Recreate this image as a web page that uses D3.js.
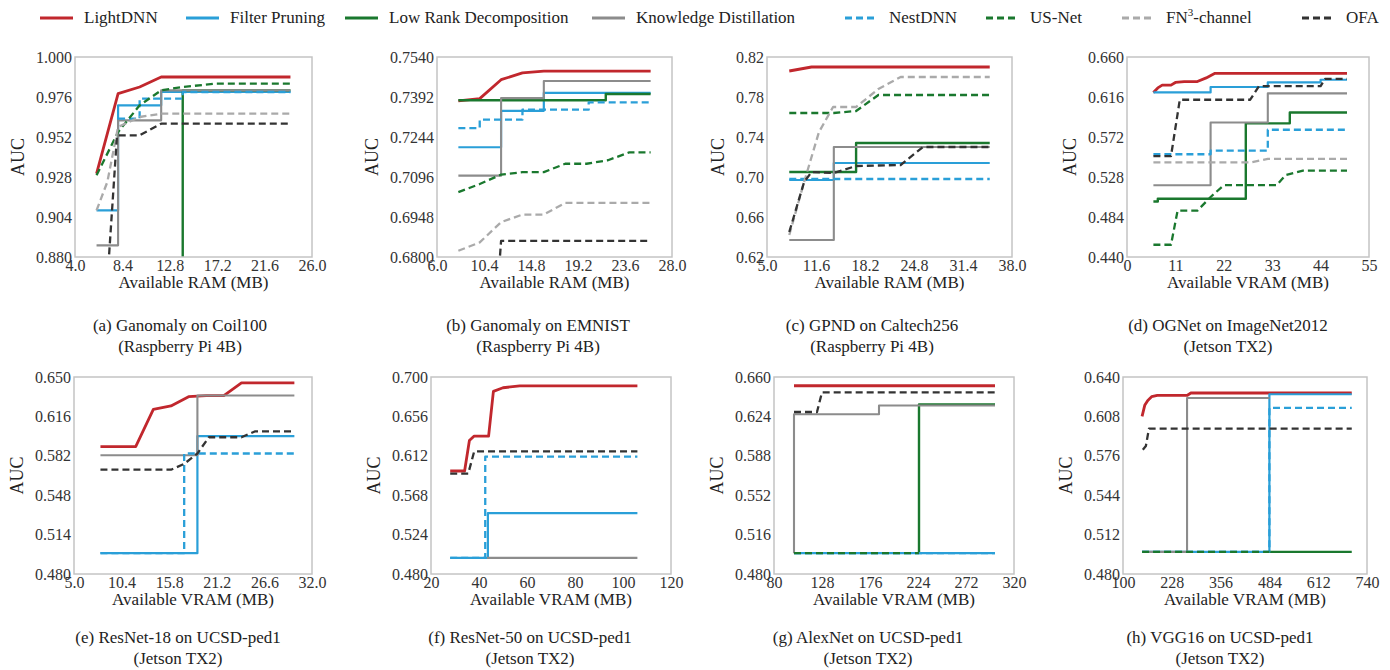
<!DOCTYPE html>
<html>
<head>
<meta charset="utf-8">
<script src="https://cdn.jsdelivr.net/npm/d3@7"></script>
<style>
  body { margin: 0; background: #fff; }
  text { font-family: "Liberation Serif", "Times New Roman", serif; fill: #222; }
</style>
</head>
<body>
<svg id="chart" width="1390" height="670"></svg>
<script>
// series, in legend order
var seriesNames = ["LightDNN", "Filter Pruning", "Low Rank Decomposition", "Knowledge Distillation",
                   "NestDNN", "US-Net", "FN3-channel", "OFA"];

// (a) Ganomaly on Coil100
var coilX = ["4.0", "8.4", "12.8", "17.2", "21.6", "26.0"];
var coilY = ["0.880", "0.904", "0.928", "0.952", "0.976", "1.000"];
var coilPts = [
  [[6, 0.930], [8, 0.978], [10, 0.982], [12, 0.988], [24, 0.988]],
  [[6, 0.908], [8, 0.908], [8, 0.971], [12, 0.971], [12, 0.979], [24, 0.979]],
  [[14, 0.870], [14, 0.980], [24, 0.980]],
  [[6, 0.887], [8, 0.887], [8, 0.962], [12, 0.962], [12, 0.980], [24, 0.980]],
  [[8, 0.963], [10, 0.963], [10, 0.975], [14, 0.975], [14, 0.979], [24, 0.979]],
  [[6, 0.929], [8, 0.955], [10, 0.971], [12, 0.980], [14, 0.982], [17, 0.984], [24, 0.984]],
  [[6, 0.908], [7, 0.925], [8, 0.958], [10, 0.964], [12, 0.966], [24, 0.966]],
  [[7.1, 0.875], [7.9, 0.953], [10, 0.953], [12, 0.960], [24, 0.960]]
];

// (b) Ganomaly on EMNIST
var emnistX = ["6.0", "10.4", "14.8", "19.2", "23.6", "28.0"];
var emnistY = ["0.6800", "0.6948", "0.7096", "0.7244", "0.7392", "0.7540"];
var emnistPts = [
  [[8, 0.7378], [10, 0.7386], [12, 0.7456], [14, 0.7481], [16, 0.7488], [26, 0.7488]],
  [[8, 0.7206], [12, 0.7206], [12, 0.7341], [16, 0.7341], [16, 0.7407], [26, 0.7407]],
  [[8, 0.7380], [21.8, 0.7380], [21.8, 0.7403], [26, 0.7403]],
  [[8, 0.7101], [12, 0.7101], [12, 0.7388], [16, 0.7388], [16, 0.7451], [26, 0.7451]],
  [[8, 0.7277], [10, 0.7277], [10, 0.7308], [14, 0.7308], [14, 0.7345], [20.2, 0.7345], [20.2, 0.7372], [26, 0.7372]],
  [[8, 0.7040], [10, 0.7070], [12, 0.7105], [14, 0.7114], [16, 0.7114], [18, 0.7145], [20, 0.7145], [22, 0.7158], [24, 0.7187], [26, 0.7187]],
  [[8, 0.6823], [10, 0.6854], [12, 0.6929], [14, 0.6957], [16, 0.6957], [18, 0.7000], [26, 0.7000]],
  [[11.9, 0.6805], [12, 0.6860], [26, 0.6860]]
];

// (c) GPND on Caltech256
var caltechX = ["5.0", "11.6", "18.2", "24.8", "31.4", "38.0"];
var caltechY = ["0.62", "0.66", "0.70", "0.74", "0.78", "0.82"];
var caltechPts = [
  [[8, 0.806], [11, 0.810], [35, 0.810]],
  [[8, 0.697], [14, 0.697], [14, 0.714], [35, 0.714]],
  [[8, 0.705], [17, 0.705], [17, 0.734], [35, 0.734]],
  [[8, 0.637], [14, 0.637], [14, 0.730], [35, 0.730]],
  [[8, 0.698], [35, 0.698]],
  [[8, 0.764], [14, 0.764], [17, 0.766], [20, 0.782], [35, 0.782]],
  [[8, 0.642], [10, 0.695], [12, 0.745], [13.9, 0.770], [17, 0.770], [20, 0.788], [23, 0.800], [35, 0.800]],
  [[8, 0.645], [10, 0.695], [11, 0.705], [14, 0.704], [17, 0.711], [23, 0.712], [26, 0.730], [35, 0.730]]
];

// (d) OGNet on ImageNet2012
var imagenetX = ["0", "11", "22", "33", "44", "55"];
var imagenetY = ["0.440", "0.484", "0.528", "0.572", "0.616", "0.660"];
var imagenetPts = [
  [[6, 0.621], [7, 0.626], [8, 0.629], [10, 0.629], [11, 0.632], [13, 0.633], [16, 0.633], [18, 0.637], [20, 0.642], [50, 0.642]],
  [[6, 0.621], [19, 0.621], [19, 0.627], [32, 0.627], [32, 0.632], [44, 0.632], [44, 0.635], [50, 0.635]],
  [[6, 0.501], [7, 0.501], [7, 0.504], [27, 0.504], [27, 0.587], [37, 0.587], [37, 0.599], [50, 0.599]],
  [[6, 0.519], [19, 0.519], [19, 0.588], [32, 0.588], [32, 0.620], [50, 0.620]],
  [[6, 0.553], [19, 0.553], [19, 0.557], [32, 0.557], [32, 0.580], [50, 0.580]],
  [[6, 0.4535], [10, 0.4535], [11.5, 0.491], [16, 0.491], [19, 0.506], [22, 0.519], [34, 0.519], [36, 0.530], [40, 0.535], [50, 0.535]],
  [[6, 0.544], [28, 0.544], [32, 0.548], [50, 0.548]],
  [[6, 0.551], [10, 0.551], [12, 0.613], [28, 0.613], [30, 0.628], [44, 0.628], [45, 0.636], [50, 0.636]]
];

// (e) ResNet-18 on UCSD-ped1
var r18X = ["5.0", "10.4", "15.8", "21.2", "26.6", "32.0"];
var r18Y = ["0.480", "0.514", "0.548", "0.582", "0.616", "0.650"];
var r18Pts = [
  [[8, 0.590], [12, 0.590], [14, 0.622], [16, 0.625], [18, 0.633], [20, 0.634], [22, 0.634], [24, 0.645], [30, 0.645]],
  [[8, 0.498], [19, 0.498], [19, 0.599], [30, 0.599]],
  null,
  [[8, 0.5825], [19, 0.5825], [19, 0.634], [30, 0.634]],
  [[8, 0.498], [17.5, 0.498], [17.5, 0.584], [30, 0.584]],
  null,
  null,
  [[8, 0.570], [16, 0.570], [17.5, 0.575], [19, 0.584], [20.3, 0.598], [24, 0.598], [25.5, 0.603], [30, 0.603]]
];

// (f) ResNet-50 on UCSD-ped1
var r50X = ["20", "40", "60", "80", "100", "120"];
var r50Y = ["0.480", "0.524", "0.568", "0.612", "0.656", "0.700"];
var r50Pts = [
  [[28, 0.595], [34, 0.595], [36, 0.629], [38, 0.634], [44, 0.634], [46, 0.684], [50, 0.688], [57, 0.690], [106, 0.690]],
  [[28, 0.498], [43.7, 0.498], [43.7, 0.548], [106, 0.548]],
  null,
  [[43.3, 0.498], [106, 0.498]],
  [[28, 0.498], [42.6, 0.498], [42.6, 0.611], [106, 0.611]],
  null,
  null,
  [[28, 0.592], [35.5, 0.592], [38, 0.617], [106, 0.617]]
];

// (g) AlexNet on UCSD-ped1
var alexX = ["80", "128", "176", "224", "272", "320"];
var alexY = ["0.480", "0.516", "0.552", "0.588", "0.624", "0.660"];
var alexPts = [
  [[100, 0.652], [301, 0.652]],
  [[100, 0.499], [301, 0.499]],
  [[225, 0.499], [225, 0.635], [301, 0.635]],
  [[100, 0.499], [100, 0.626], [185, 0.626], [185, 0.634], [301, 0.634]],
  [[100, 0.499], [301, 0.499]],
  [[100, 0.499], [225, 0.499]],
  null,
  [[100, 0.628], [123, 0.628], [128, 0.646], [301, 0.646]]
];

// (h) VGG16 on UCSD-ped1
var vggX = ["100", "228", "356", "484", "612", "740"];
var vggY = ["0.480", "0.512", "0.544", "0.576", "0.608", "0.640"];
var vggPts = [
  [[150, 0.608], [157, 0.617], [165, 0.621], [175, 0.624], [190, 0.625], [268, 0.625], [278, 0.627], [700, 0.627]],
  [[150, 0.498], [484, 0.498], [484, 0.626], [700, 0.626]],
  [[484, 0.498], [700, 0.498]],
  [[150, 0.498], [268, 0.498], [268, 0.623], [484, 0.623]],
  [[150, 0.498], [484, 0.498], [484, 0.615], [700, 0.615]],
  [[150, 0.498], [484, 0.498]],
  null,
  [[152, 0.581], [160, 0.584], [168, 0.598], [700, 0.598]]
];

var captions = [
  ["(a) Ganomaly on Coil100", "(Raspberry Pi 4B)"],
  ["(b) Ganomaly on EMNIST", "(Raspberry Pi 4B)"],
  ["(c) GPND on Caltech256", "(Raspberry Pi 4B)"],
  ["(d) OGNet on ImageNet2012", "(Jetson TX2)"],
  ["(e) ResNet-18 on UCSD-ped1", "(Jetson TX2)"],
  ["(f) ResNet-50 on UCSD-ped1", "(Jetson TX2)"],
  ["(g) AlexNet on UCSD-ped1", "(Jetson TX2)"],
  ["(h) VGG16 on UCSD-ped1", "(Jetson TX2)"]
];

var panels = [
  { xt: coilX, yt: coilY, pts: coilPts, xlabel: "Available RAM (MB)" },
  { xt: emnistX, yt: emnistY, pts: emnistPts, xlabel: "Available RAM (MB)" },
  { xt: caltechX, yt: caltechY, pts: caltechPts, xlabel: "Available RAM (MB)" },
  { xt: imagenetX, yt: imagenetY, pts: imagenetPts, xlabel: "Available VRAM (MB)" },
  { xt: r18X, yt: r18Y, pts: r18Pts, xlabel: "Available VRAM (MB)" },
  { xt: r50X, yt: r50Y, pts: r50Pts, xlabel: "Available VRAM (MB)" },
  { xt: alexX, yt: alexY, pts: alexPts, xlabel: "Available VRAM (MB)" },
  { xt: vggX, yt: vggY, pts: vggPts, xlabel: "Available VRAM (MB)" }
];

// styles
var FONT = "Liberation Serif, Times New Roman, serif";
var colors = ["#c1272d", "#2a9fd8", "#1a782e", "#8c8c8c", "#2a9fd8", "#1a782e", "#aaaaaa", "#333333"];
var dashed = [false, false, false, false, true, true, true, true];
var widths = [2.8, 2.2, 2.4, 2.1, 2.3, 2.3, 2.3, 2.3];

// layout: plot boxes, caption centres and caption baselines
var boxes = [
  { l: 75, r: 312, t: 57, b: 257, cx: 180, cy: 331 },
  { l: 437, r: 672, t: 57, b: 257, cx: 538, cy: 331 },
  { l: 767, r: 1012, t: 57, b: 257, cx: 872, cy: 331 },
  { l: 1127, r: 1369, t: 57, b: 257, cx: 1228, cy: 331 },
  { l: 74, r: 312, t: 377, b: 574, cx: 178, cy: 643 },
  { l: 431, r: 671, t: 377, b: 574, cx: 530, cy: 643 },
  { l: 774, r: 1014, t: 377, b: 574, cx: 868, cy: 643 },
  { l: 1123, r: 1367, t: 377, b: 574, cx: 1220, cy: 643 }
];

var svg = d3.select("#chart");

panels.forEach(function (p, k) {
  var box = boxes[k];
  var x = d3.scaleLinear().domain([+p.xt[0], +p.xt[p.xt.length - 1]]).range([box.l, box.r]);
  var y = d3.scaleLinear().domain([+p.yt[0], +p.yt[p.yt.length - 1]]).range([box.b, box.t]);

  svg.append("clipPath").attr("id", "clip" + k)
    .append("rect")
    .attr("x", box.l).attr("y", box.t)
    .attr("width", box.r - box.l).attr("height", box.b - box.t);

  var xAxis = svg.append("g")
    .attr("transform", "translate(0," + box.b + ")")
    .call(d3.axisBottom(x).tickValues(p.xt.map(Number)).tickFormat(function (d, i) { return p.xt[i]; })
      .tickSize(0).tickPadding(3));
  var yAxis = svg.append("g")
    .attr("transform", "translate(" + box.l + ",0)")
    .call(d3.axisLeft(y).tickValues(p.yt.map(Number)).tickFormat(function (d, i) { return p.yt[i]; })
      .tickSize(0).tickPadding(3));
  [xAxis, yAxis].forEach(function (a) {
    a.select(".domain").remove();
    a.attr("font-size", 16).attr("font-family", FONT);
    a.selectAll("text").style("fill", "#333");
  });

  // lines
  var line = d3.line().x(function (d) { return x(d[0]); }).y(function (d) { return y(d[1]); });
  var lg = svg.append("g").attr("clip-path", "url(#clip" + k + ")");
  p.pts.forEach(function (s, i) {
    if (!s) return;
    lg.append("path")
      .attr("d", line(s))
      .attr("fill", "none")
      .attr("stroke", colors[i])
      .attr("stroke-width", widths[i])
      .attr("stroke-dasharray", dashed[i] ? "7,4" : null)
      .attr("stroke-linejoin", "round");
  });

  // frame
  svg.append("rect")
    .attr("x", box.l).attr("y", box.t)
    .attr("width", box.r - box.l).attr("height", box.b - box.t)
    .attr("fill", "none").attr("stroke", "#c4c4c4").attr("stroke-width", 1.5);

  // axis titles
  var bb = yAxis.node().getBBox();
  svg.append("text")
    .attr("transform", "translate(" + (bb.x + box.l - 12) + "," + ((box.t + box.b) / 2) + ") rotate(-90)")
    .attr("text-anchor", "middle")
    .attr("font-family", FONT)
    .attr("font-size", 18)
    .text("AUC");
  svg.append("text")
    .attr("x", (box.l + box.r) / 2).attr("y", box.b + 31)
    .attr("text-anchor", "middle")
    .attr("font-family", FONT)
    .attr("font-size", 17)
    .text(p.xlabel);

  // caption
  var cap = svg.append("text").attr("text-anchor", "middle").attr("font-family", FONT).attr("font-size", 17);
  cap.append("tspan").attr("x", box.cx).attr("y", box.cy).text(captions[k][0]);
  cap.append("tspan").attr("x", box.cx).attr("y", box.cy + 21).text(captions[k][1]);
});

// legend
var legendX = [40, 186, 345, 592, 845, 986, 1122, 1302];
var legend = svg.append("g");
seriesNames.forEach(function (name, i) {
  var lx = legendX[i];
  legend.append("line")
    .attr("x1", lx).attr("x2", lx + 33).attr("y1", 18).attr("y2", 18)
    .attr("stroke", colors[i]).attr("stroke-width", 2.8)
    .attr("stroke-dasharray", dashed[i] ? "7,4" : null);
  var t = legend.append("text").attr("x", lx + 44).attr("y", 23)
    .attr("font-family", FONT).attr("font-size", 17);
  if (name === "FN3-channel") {
    t.append("tspan").text("FN");
    t.append("tspan").attr("dy", -7).attr("font-size", 11).text("3");
    t.append("tspan").attr("dy", 7).text("-channel");
  } else {
    t.text(name);
  }
});
</script>
</body>
</html>
